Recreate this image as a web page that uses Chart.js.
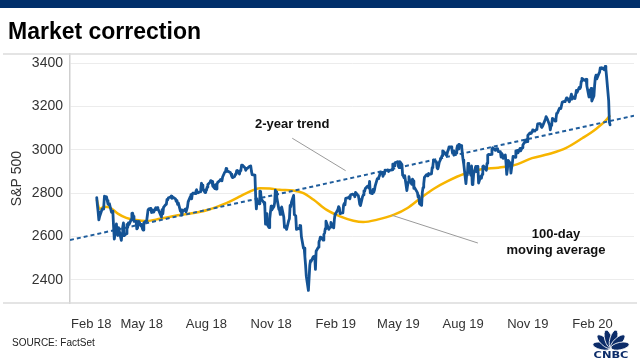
<!DOCTYPE html>
<html><head><meta charset="utf-8">
<script src="https://cdn.jsdelivr.net/npm/chart.js@4.4.1/dist/chart.umd.min.js"></script>
<style>html,body{margin:0;padding:0;background:#fff;}canvas{display:block;}</style>
</head><body><canvas id="c" width="640" height="360"></canvas>
<script>
const chartTitle = 'Market correction';
const sourceText = 'SOURCE: FactSet';
const yAxisTitle = 'S&P 500';

const d2018 = ['02-26','02-27','02-28','03-01','03-02','03-05','03-06','03-07','03-08','03-09','03-12','03-13','03-14','03-15','03-16','03-19','03-20','03-21','03-22','03-23','03-26','03-27','03-28','03-29','04-02','04-03','04-04','04-05','04-06','04-09','04-10','04-11','04-12','04-13','04-16','04-17','04-18','04-19','04-20','04-23','04-24','04-25','04-26','04-27','04-30','05-01','05-02','05-03','05-04','05-07','05-08','05-09','05-10','05-11','05-14','05-15','05-16','05-17','05-18','05-21','05-22','05-23','05-24','05-25','05-29','05-30','05-31','06-01','06-04','06-05','06-06','06-07','06-08','06-11','06-12','06-13','06-14','06-15','06-18','06-19','06-20','06-21','06-22','06-25','06-26','06-27','06-28','06-29','07-02','07-03','07-05','07-06','07-09','07-10','07-11','07-12','07-13','07-16','07-17','07-18','07-19','07-20','07-23','07-24','07-25','07-26','07-27','07-30','07-31','08-01','08-02','08-03','08-06','08-07','08-08','08-09','08-10','08-13','08-14','08-15','08-16','08-17','08-20','08-21','08-22','08-23','08-24','08-27','08-28','08-29','08-30','08-31','09-04','09-05','09-06','09-07','09-10','09-11','09-12','09-13','09-14','09-17','09-18','09-19','09-20','09-21','09-24','09-25','09-26','09-27','09-28','10-01','10-02','10-03','10-04','10-05','10-08','10-09','10-10','10-11','10-12','10-15','10-16','10-17','10-18','10-19','10-22','10-23','10-24','10-25','10-26','10-29','10-30','10-31','11-01','11-02','11-05','11-06','11-07','11-08','11-09','11-12','11-13','11-14','11-15','11-16','11-19','11-20','11-21','11-23','11-26','11-27','11-28','11-29','11-30','12-03','12-04','12-06','12-07','12-10','12-11','12-12','12-13','12-14','12-17','12-18','12-19','12-20','12-21','12-24','12-26','12-27','12-28','12-31'];
const c2018 = [2780,2744,2714,2677,2691,2720,2728,2727,2739,2786,2783,2766,2750,2748,2752,2712,2717,2711,2643,2588,2658,2612,2605,2641,2582,2614,2644,2663,2604,2613,2656,2642,2663,2656,2678,2707,2708,2693,2670,2670,2635,2639,2667,2670,2648,2655,2636,2630,2663,2672,2672,2697,2723,2728,2730,2711,2722,2720,2713,2733,2725,2733,2728,2721,2690,2724,2705,2735,2747,2749,2772,2770,2779,2782,2787,2776,2782,2780,2774,2763,2767,2749,2755,2717,2723,2699,2716,2718,2727,2714,2736,2760,2784,2793,2774,2798,2801,2798,2809,2816,2804,2802,2807,2821,2846,2837,2819,2803,2816,2813,2828,2840,2850,2858,2857,2853,2833,2822,2840,2819,2840,2850,2858,2863,2861,2857,2875,2897,2898,2914,2901,2902,2896,2888,2878,2872,2877,2887,2888,2904,2905,2889,2904,2907,2930,2930,2920,2916,2906,2914,2914,2924,2923,2926,2902,2886,2884,2881,2786,2728,2768,2751,2810,2809,2769,2768,2756,2741,2657,2706,2659,2641,2682,2712,2740,2723,2739,2756,2814,2806,2781,2726,2722,2702,2730,2736,2690,2642,2649,2633,2674,2682,2744,2738,2760,2790,2701,2696,2633,2638,2636,2651,2650,2600,2546,2546,2507,2467,2417,2351,2468,2489,2486,2507];

const d2019 = ['01-02','01-03','01-04','01-07','01-08','01-09','01-10','01-11','01-14','01-15','01-16','01-17','01-18','01-22','01-23','01-24','01-25','01-28','01-29','01-30','01-31','02-01','02-04','02-05','02-06','02-07','02-08','02-11','02-12','02-13','02-14','02-15','02-19','02-20','02-21','02-22','02-25','02-26','02-27','02-28','03-01','03-04','03-05','03-06','03-07','03-08','03-11','03-12','03-13','03-14','03-15','03-18','03-19','03-20','03-21','03-22','03-25','03-26','03-27','03-28','03-29','04-01','04-02','04-03','04-04','04-05','04-08','04-09','04-10','04-11','04-12','04-15','04-16','04-17','04-18','04-22','04-23','04-24','04-25','04-26','04-29','04-30','05-01','05-02','05-03','05-06','05-07','05-08','05-09','05-10','05-13','05-14','05-15','05-16','05-17','05-20','05-21','05-22','05-23','05-24','05-28','05-29','05-30','05-31','06-03','06-04','06-05','06-06','06-07','06-10','06-11','06-12','06-13','06-14','06-17','06-18','06-19','06-20','06-21','06-24','06-25','06-26','06-27','06-28','07-01','07-02','07-03','07-05','07-08','07-09','07-10','07-11','07-12','07-15','07-16','07-17','07-18','07-19','07-22','07-23','07-24','07-25','07-26','07-29','07-30','07-31','08-01','08-02','08-05','08-06','08-07','08-08','08-09','08-12','08-13','08-14','08-15','08-16','08-19','08-20','08-21','08-22','08-23','08-26','08-27','08-28','08-29','08-30','09-03','09-04','09-05','09-06','09-09','09-10','09-11','09-12','09-13','09-16','09-17','09-18','09-19','09-20','09-23','09-24','09-25','09-26','09-27','09-30','10-01','10-02','10-03','10-04','10-07','10-08','10-09','10-10','10-11','10-14','10-15','10-16','10-17','10-18','10-21','10-22','10-23','10-24','10-25','10-28','10-29','10-30','10-31','11-01','11-04','11-05','11-06','11-07','11-08','11-11','11-12','11-13','11-14','11-15','11-18','11-19','11-20','11-21','11-22','11-25','11-26','11-27','11-29','12-02','12-03','12-04','12-05','12-06','12-09','12-10','12-11','12-12','12-13','12-16','12-17','12-18','12-19','12-20','12-23','12-24','12-26','12-27','12-30','12-31'];
const c2019 = [2510,2448,2532,2550,2574,2585,2597,2596,2583,2610,2616,2636,2671,2633,2639,2643,2665,2644,2640,2681,2704,2707,2725,2738,2732,2706,2708,2709,2744,2753,2746,2776,2780,2784,2774,2793,2796,2793,2792,2784,2804,2792,2789,2771,2749,2743,2784,2792,2811,2809,2822,2833,2833,2824,2855,2801,2798,2818,2805,2816,2834,2867,2867,2873,2880,2893,2896,2878,2888,2888,2907,2906,2908,2900,2905,2908,2934,2927,2926,2940,2944,2946,2924,2918,2946,2932,2884,2880,2871,2881,2812,2835,2851,2876,2860,2841,2865,2857,2822,2826,2803,2783,2789,2752,2744,2804,2826,2843,2873,2886,2885,2880,2891,2887,2889,2918,2926,2954,2950,2945,2917,2913,2924,2942,2964,2973,2996,2990,2976,2979,2993,3000,3014,3014,3004,2985,2995,2977,2985,3005,3020,3004,3026,3020,3013,2980,2953,2932,2844,2882,2884,2938,2919,2883,2926,2840,2848,2889,2924,2900,2924,2923,2847,2878,2869,2887,2924,2926,2906,2938,2976,2979,2978,2979,3001,3010,3007,2998,3006,3006,3006,2992,2992,2967,2984,2977,2961,2977,2940,2887,2910,2952,2938,2893,2919,2938,2970,2966,2996,2990,2998,2986,3007,2996,3004,3010,3023,3039,3036,3047,3038,3067,3078,3075,3077,3085,3093,3087,3091,3094,3097,3120,3122,3120,3108,3104,3110,3134,3141,3154,3141,3114,3093,3113,3118,3146,3136,3133,3142,3169,3169,3192,3193,3191,3206,3221,3224,3223,3240,3240,3222,3231];

const d2020 = ['01-02','01-03','01-06','01-07','01-08','01-09','01-10','01-13','01-14','01-15','01-16','01-17','01-21','01-22','01-23','01-24','01-27','01-28','01-29','01-30','01-31','02-03','02-04','02-05','02-06','02-07','02-10','02-11','02-12','02-13','02-14','02-18','02-19','02-20','02-21','02-24','02-25','02-26'];
const c2020 = [3258,3235,3246,3237,3253,3275,3265,3288,3283,3289,3317,3330,3321,3321,3326,3295,3244,3276,3273,3284,3226,3249,3298,3334,3345,3328,3352,3358,3379,3374,3380,3370,3386,3373,3338,3226,3128,3116];

const maDates = ['2018-02-26','2018-03-02','2018-03-09','2018-03-16','2018-03-28','2018-04-09','2018-04-23','2018-05-08','2018-05-27','2018-06-24','2018-07-20','2018-08-06','2018-08-22','2018-09-03','2018-09-15','2018-09-27','2018-10-16','2018-10-30','2018-11-13','2018-12-02','2018-12-16','2018-12-31','2019-01-19','2019-02-07','2019-02-26','2019-03-12','2019-04-01','2019-04-25','2019-05-14','2019-06-02','2019-06-21','2019-07-10','2019-08-03','2019-08-27','2019-09-20','2019-10-14','2019-11-07','2019-12-01','2019-12-25','2020-01-18','2020-02-06','2020-02-20','2020-02-26'];
const maValues = [2772,2728,2738,2735,2706,2686,2676,2672,2682,2699,2712,2726,2745,2761,2781,2800,2823,2822,2816,2813,2802,2771,2723,2693,2673,2667,2678,2701,2732,2779,2822,2856,2890,2911,2918,2931,2962,2981,3008,3055,3097,3136,3160];

const trendDates = ['2018-01-19','2020-03-31'];
const trendValues = [2584, 3158];

const xTickDates = ['2018-02-01','2018-05-01','2018-08-01','2018-11-01','2019-02-01','2019-05-01','2019-08-01','2019-11-01','2020-02-01'];
const xTickLabels = ['Feb 18','May 18','Aug 18','Nov 18','Feb 19','May 19','Aug 19','Nov 19','Feb 20'];
const yTicks = [2400, 2600, 2800, 3000, 3200, 3400];
const xRange = ['2018-01-19','2020-03-31'];
const yRange = [2293, 3443];

const notes = [
  {lines:['2-year trend'], at:'2018-12-01', value:3099, from:['2018-12-01',3054], to:['2019-02-15',2904]},
  {lines:['100-day','moving average'], at:'2019-12-11', value:2593, from:['2019-04-22',2698], to:['2019-08-22',2570]}
];

const FONT = "'Liberation Sans', Arial, sans-serif";
const BASE = Date.UTC(2018,1,26);
const dayOf = s => (Date.parse(s + 'T00:00:00Z') - BASE) / 864e5;

const spPoints = [];
[['2018',d2018,c2018],['2019',d2019,c2019],['2020',d2020,c2020]].forEach(([yr, ds, cs]) => {
  ds.forEach((md, i) => spPoints.push({x: dayOf(yr + '-' + md), y: cs[i]}));
});
const maPoints = maDates.map((d, i) => ({x: dayOf(d), y: maValues[i]}));
const trendPoints = trendDates.map((d, i) => ({x: dayOf(d), y: trendValues[i]}));

const decor = {
  id: 'decor',
  beforeDraw(chart) {
    const ctx = chart.ctx, a = chart.chartArea;
    ctx.save();
    ctx.fillStyle = '#012f6b';
    ctx.fillRect(0, 0, chart.width, 8);
    ctx.restore();
    const sx = chart.scales.x;
    const items = sx.getLabelItems();
    if (items.length) {
      const it = items[0];
      ctx.save();
      ctx.font = it.font.string;
      const w = ctx.measureText(it.label).width;
      ctx.restore();
      if (it.options.translation[0] - w / 2 < a.left) it.options.translation[0] = a.left + w / 2 + 1;
    }
  },
  beforeDatasetsDraw(chart) {
    const ctx = chart.ctx, a = chart.chartArea;
    ctx.save();
    ctx.strokeStyle = '#dcdcdc';
    ctx.lineWidth = 1.5;
    ctx.beginPath();
    ctx.moveTo(3, a.top); ctx.lineTo(chart.width - 3, a.top);
    ctx.moveTo(3, a.bottom); ctx.lineTo(chart.width - 3, a.bottom);
    ctx.stroke();
    ctx.restore();
  },
  afterDatasetsDraw(chart) {
    const ctx = chart.ctx, sx = chart.scales.x, sy = chart.scales.y;
    ctx.save();
    notes.forEach(n => {
      ctx.strokeStyle = '#9a9a9a';
      ctx.lineWidth = 1;
      ctx.beginPath();
      ctx.moveTo(sx.getPixelForValue(dayOf(n.from[0])), sy.getPixelForValue(n.from[1]));
      ctx.lineTo(sx.getPixelForValue(dayOf(n.to[0])), sy.getPixelForValue(n.to[1]));
      ctx.stroke();
      ctx.fillStyle = '#111';
      ctx.font = 'bold 13px ' + FONT;
      ctx.textAlign = 'center';
      ctx.textBaseline = 'alphabetic';
      const x = sx.getPixelForValue(dayOf(n.at));
      const y = sy.getPixelForValue(n.value);
      n.lines.forEach((t, i) => ctx.fillText(t, x, y + i * 15.5));
    });
    ctx.restore();
  },
  afterDraw(chart) {
    const ctx = chart.ctx;
    ctx.save();
    ctx.fillStyle = '#222';
    ctx.font = '10px ' + FONT;
    ctx.textAlign = 'left';
    ctx.textBaseline = 'alphabetic';
    ctx.fillText(sourceText, 12, 346);
    const cx = 611, cy = 348;
    [-78, -47, -16, 16, 47, 78].forEach(deg => {
      ctx.save();
      ctx.translate(cx, cy);
      ctx.rotate(deg * Math.PI / 180);
      ctx.beginPath();
      ctx.ellipse(0, -9.3, 3.7, 9.3, 0, 0, Math.PI * 2);
      ctx.fillStyle = '#0c2c69';
      ctx.fill();
      ctx.lineWidth = 0.8;
      ctx.strokeStyle = '#fff';
      ctx.stroke();
      ctx.restore();
    });
    ctx.save();
    ctx.translate(611, 357.5);
    ctx.scale(1.2, 1);
    ctx.fillStyle = '#0c2c69';
    ctx.font = "bold 9.5px 'DejaVu Sans', sans-serif";
    ctx.textAlign = 'center';
    ctx.fillText('CNBC', 0, 0);
    ctx.restore();
    ctx.restore();
  }
};

new Chart(document.getElementById('c'), {
  type: 'line',
  data: {datasets: [
    {label: 'S&P 500', data: spPoints, borderColor: '#145395', borderWidth: 2.8, pointRadius: 0, tension: 0, borderJoinStyle: 'round', borderCapStyle: 'round'},
    {label: '2-year trend', data: trendPoints, borderColor: '#1f5d9c', borderWidth: 2, borderDash: [4, 3], pointRadius: 0},
    {label: '100-day moving average', data: maPoints, borderColor: '#f7b500', borderWidth: 2.5, pointRadius: 0, cubicInterpolationMode: 'monotone'}
  ]},
  options: {
    responsive: false, animation: false, devicePixelRatio: 1,
    layout: {padding: {top: 0, left: 8, right: 6, bottom: 0}},
    plugins: {
      legend: {display: false},
      tooltip: {enabled: false},
      title: {display: true, text: chartTitle, align: 'start', color: '#000',
        font: {size: 23, weight: 'bold', family: FONT}, padding: {top: 19, bottom: 7.4}}
    },
    scales: {
      x: {type: 'linear', min: dayOf(xRange[0]), max: dayOf(xRange[1]),
        afterBuildTicks: s => { s.ticks = xTickDates.map(d => ({value: dayOf(d)})); },
        afterFit: s => { s.height = 57; },
        grid: {display: false}, border: {display: false},
        ticks: {autoSkip: false, maxRotation: 0, padding: 6, color: '#333', font: {size: 13, family: FONT},
          callback: (v, i) => xTickLabels[i]}},
      y: {min: yRange[0], max: yRange[1],
        afterBuildTicks: s => { s.ticks = yTicks.map(v => ({value: v})); },
        afterFit: s => { s.width = 62; },
        grid: {color: '#ececec', lineWidth: 1, drawTicks: false},
        border: {display: true, color: '#cfcfcf', width: 1.5},
        ticks: {padding: 7, color: '#333', font: {size: 14, family: FONT}, callback: v => String(v)},
        title: {display: true, text: yAxisTitle, color: '#333', font: {size: 14, family: FONT}, padding: {top: 1, bottom: 0}}}
    }
  },
  plugins: [decor]
});
</script>
</body></html>
